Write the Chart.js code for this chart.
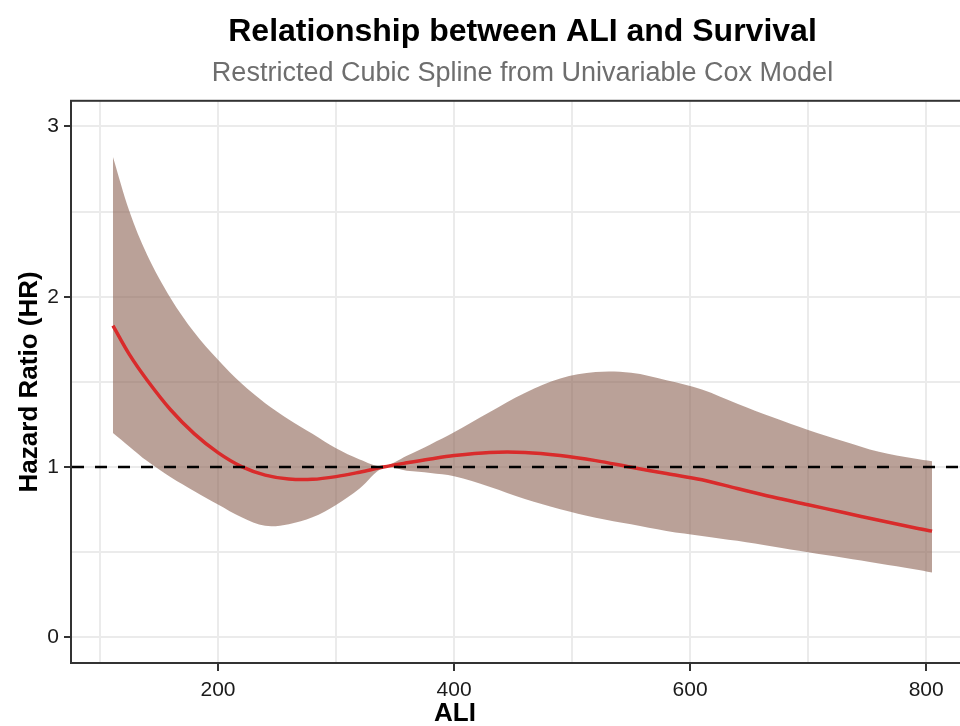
<!DOCTYPE html>
<html>
<head>
<meta charset="utf-8">
<title>ALI and Survival</title>
<script src="https://cdn.jsdelivr.net/npm/chart.js@4.4.1/dist/chart.umd.min.js"></script>
<style>
  html, body { margin: 0; padding: 0; background: #ffffff; overflow: hidden; }
  #wrap { width: 975px; height: 726px; }
</style>
</head>
<body>
<div id="wrap"><canvas id="splineChart" width="975" height="726"></canvas></div>
<script>
// ALI values along the spline, hazard ratio and its 95% CI
const aliValues   = [111, 125, 140, 160, 180, 200, 220, 240, 260, 280, 300, 320, 340, 360, 380, 400, 430, 460, 490, 520, 550, 580, 610, 640, 670, 700, 730, 760, 790, 805];
const hazardRatio = [1.83, 1.66, 1.51, 1.335, 1.195, 1.085, 1.003, 0.953, 0.93, 0.928, 0.944, 0.97, 1.0, 1.025, 1.048, 1.068, 1.086, 1.086, 1.068, 1.038, 0.999, 0.962, 0.926, 0.874, 0.824, 0.779, 0.733, 0.688, 0.644, 0.624];
const lowerCI     = [1.20, 1.12, 1.035, 0.94, 0.858, 0.78, 0.705, 0.655, 0.665, 0.705, 0.778, 0.875, 0.995, 0.978, 0.965, 0.946, 0.885, 0.812, 0.752, 0.703, 0.664, 0.625, 0.596, 0.567, 0.534, 0.50, 0.468, 0.434, 0.40, 0.381];
const upperCI     = [2.82, 2.50, 2.245, 1.99, 1.79, 1.63, 1.49, 1.375, 1.28, 1.195, 1.11, 1.045, 1.005, 1.066, 1.133, 1.204, 1.322, 1.435, 1.52, 1.558, 1.553, 1.51, 1.456, 1.372, 1.292, 1.218, 1.152, 1.09, 1.05, 1.034];

const referenceHR = 1;
const xMajorTicks = [200, 400, 600, 800];
const xMinorTicks = [100, 300, 500, 700];
const yMajorTicks = [0, 1, 2, 3];
const yMinorTicks = [0.5, 1.5, 2.5];
const xRange = [76.3, 839.7];
const yRange = [-0.15, 3.15];

const FONT = '"Liberation Sans", Arial, Helvetica, sans-serif';

const toPoints = ys => aliValues.map((x, i) => ({ x: x, y: ys[i] }));
const tickList = (major, minor) => major.concat(minor).sort((a, b) => a - b).map(v => ({ value: v }));

// panel border + axis titles (ggplot style)
const panelDecor = {
    id: 'panelDecor',
    afterDraw(chart) {
        const { ctx, chartArea: a } = chart;
        ctx.save();
        ctx.strokeStyle = '#333333';
        ctx.lineWidth = 2;
        ctx.strokeRect(a.left - 1, a.top, a.right - a.left + 1, a.bottom - a.top);

        ctx.fillStyle = '#000000';
        ctx.font = 'bold 26px ' + FONT;
        ctx.textAlign = 'center';
        ctx.textBaseline = 'middle';
        ctx.fillText('ALI', 455, 714);

        ctx.translate(30, (a.top + a.bottom) / 2);
        ctx.rotate(-Math.PI / 2);
        ctx.fillText('Hazard Ratio (HR)', 0, 0);
        ctx.restore();
    }
};

const SMOOTH = 0.35;

new Chart(document.getElementById('splineChart'), {
    type: 'line',
    data: {
        datasets: [
            {
                label: 'HR = 1',
                data: xRange.map(x => ({ x: x, y: referenceHR })),
                borderColor: '#000000',
                borderWidth: 2.5,
                borderDash: [12, 11],
                pointRadius: 0,
                fill: false,
                order: 0
            },
            {
                label: 'Hazard ratio',
                data: toPoints(hazardRatio),
                borderColor: '#D92B2B',
                borderWidth: 3.5,
                pointRadius: 0,
                tension: SMOOTH,
                fill: false,
                order: 1
            },
            {
                label: 'Upper 95% CI',
                data: toPoints(upperCI),
                borderWidth: 0,
                borderColor: 'rgba(0,0,0,0)',
                pointRadius: 0,
                tension: SMOOTH,
                fill: '+1',
                backgroundColor: 'rgba(140,98,83,0.6)',
                order: 3
            },
            {
                label: 'Lower 95% CI',
                data: toPoints(lowerCI),
                borderWidth: 0,
                borderColor: 'rgba(0,0,0,0)',
                pointRadius: 0,
                tension: SMOOTH,
                fill: false,
                order: 2
            }
        ]
    },
    options: {
        responsive: false,
        animation: false,
        devicePixelRatio: 1,
        layout: { padding: { left: 0, right: 2, top: 0, bottom: 0 } },
        plugins: {
            legend: { display: false },
            tooltip: { enabled: false },
            title: {
                display: true,
                text: 'Relationship between ALI and Survival',
                fullSize: false,
                color: '#000000',
                font: { family: FONT, size: 32, weight: 'bold', lineHeight: 1.2 },
                padding: { top: 13, bottom: 0 }
            },
            subtitle: {
                display: true,
                text: 'Restricted Cubic Spline from Univariable Cox Model',
                fullSize: false,
                color: '#6E6E6E',
                font: { family: FONT, size: 27, lineHeight: 1.2 },
                padding: { top: 6, bottom: 11 }
            }
        },
        scales: {
            x: {
                type: 'linear',
                min: xRange[0],
                max: xRange[1],
                afterBuildTicks: s => { s.ticks = tickList(xMajorTicks, xMinorTicks); },
                afterFit: s => { s.height = 63; },
                border: { display: false },
                grid: {
                    color: '#EBEBEB',
                    lineWidth: 2,
                    tickLength: 8,
                    tickWidth: 2,
                    tickColor: c => (c.tick && xMajorTicks.includes(c.tick.value)) ? '#333333' : 'rgba(0,0,0,0)'
                },
                ticks: {
                    autoSkip: false,
                    maxRotation: 0,
                    padding: 7,
                    color: '#1A1A1A',
                    font: { family: FONT, size: 21 },
                    callback: v => xMajorTicks.includes(v) ? String(v) : ''
                }
            },
            y: {
                type: 'linear',
                min: yRange[0],
                max: yRange[1],
                afterBuildTicks: s => { s.ticks = tickList(yMajorTicks, yMinorTicks); },
                afterFit: s => { s.width = 72; },
                border: { display: false },
                grid: {
                    color: '#EBEBEB',
                    lineWidth: 2,
                    tickLength: 8,
                    tickWidth: 2,
                    tickColor: c => (c.tick && yMajorTicks.includes(c.tick.value)) ? '#333333' : 'rgba(0,0,0,0)'
                },
                ticks: {
                    autoSkip: false,
                    padding: 5,
                    color: '#1A1A1A',
                    font: { family: FONT, size: 21 },
                    callback: v => yMajorTicks.includes(v) ? String(v) : ''
                }
            }
        }
    },
    plugins: [panelDecor]
});
</script>
</body>
</html>
